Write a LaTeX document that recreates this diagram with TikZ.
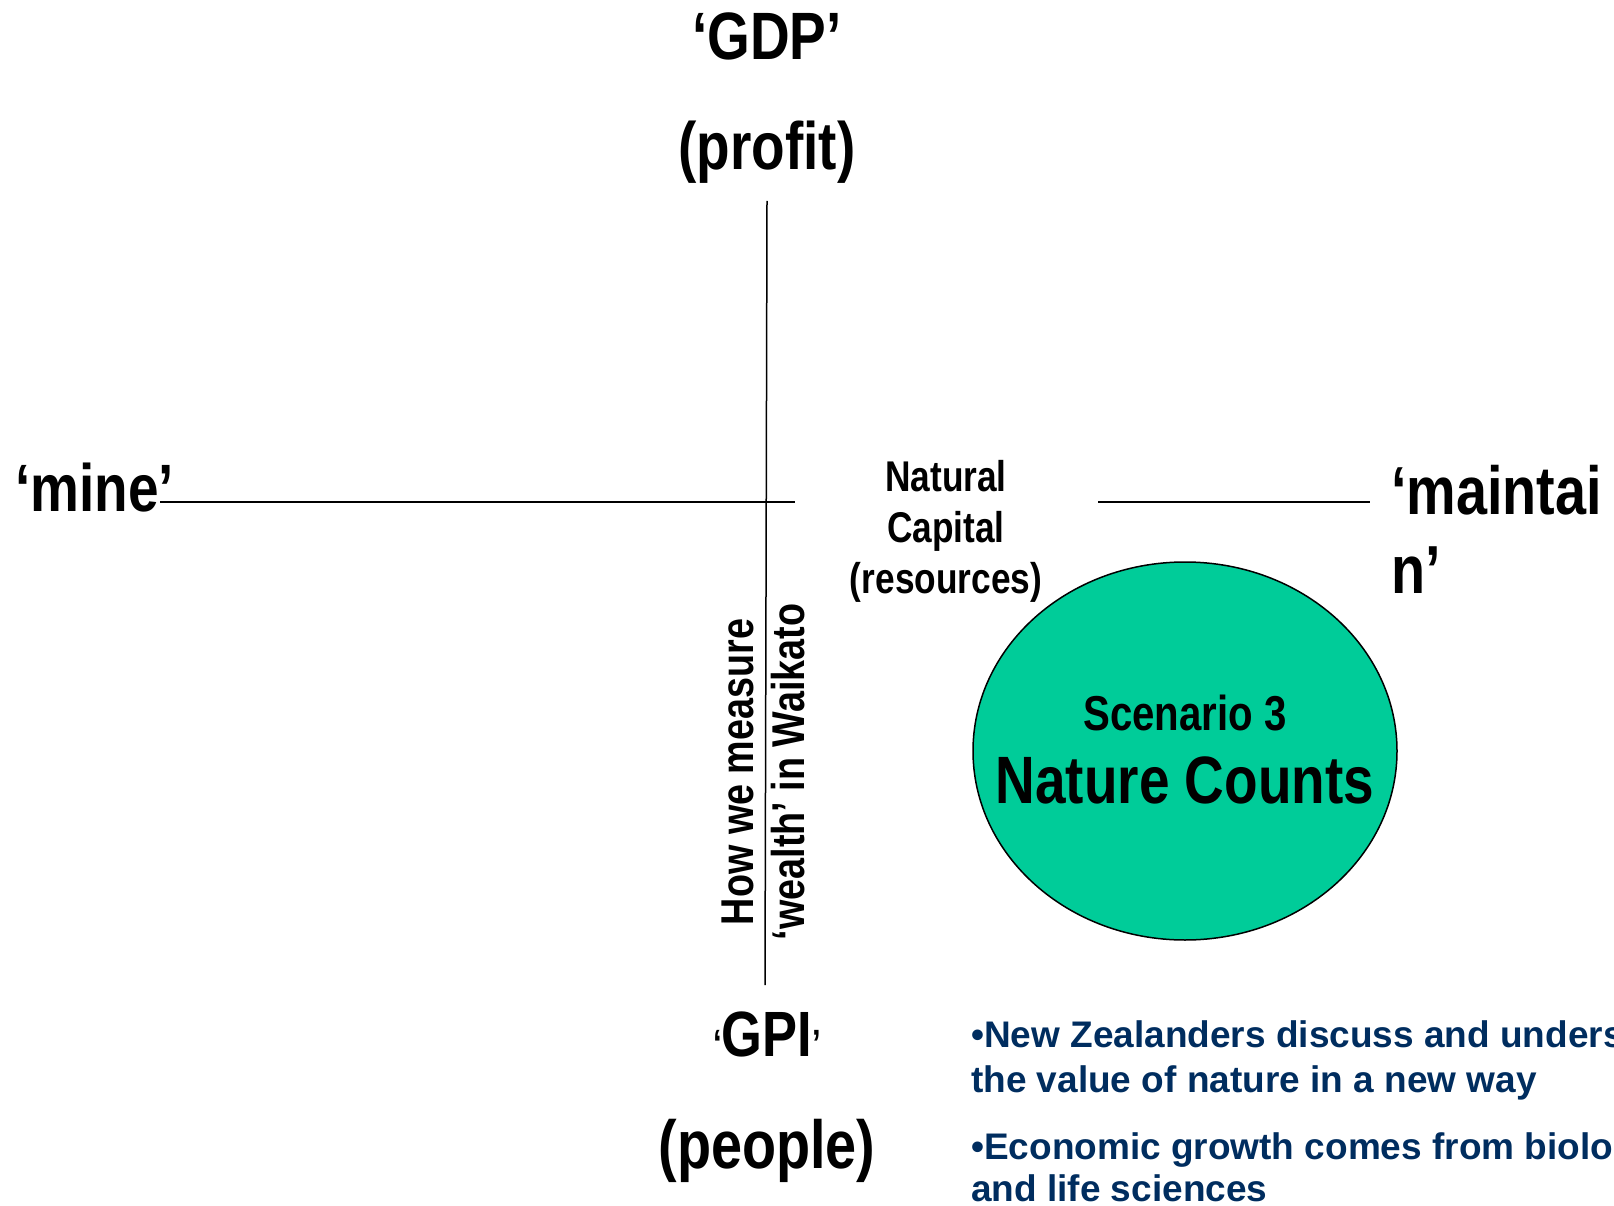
\documentclass[tikz,border=0pt]{standalone}
\usepackage{fontspec}
\setmainfont{Liberation Sans}
\newfontfamily\narrowfont[FakeStretch=0.82]{Liberation Sans}
\definecolor{natgreen}{RGB}{0,204,153}
\definecolor{bulletblue}{RGB}{0,45,95}

\begin{document}
\begin{tikzpicture}[x=1pt,y=-1pt,
    bigword/.style={font=\narrowfont\bfseries\fontsize{67}{80}\selectfont, inner sep=0pt, anchor=base},
    midword/.style={font=\narrowfont\bfseries\fontsize{43}{51}\selectfont, inner sep=0pt, align=center},
    bullettext/.style={font=\bfseries\fontsize{37}{45}\selectfont, text=bulletblue, inner sep=0pt, anchor=base west}]
	% Fix the page and cut off what runs over the edge
	\useasboundingbox (0,0) rectangle (1614,1206);
	\clip (0,0) rectangle (1614,1206);
	
	% Axis end points
	\coordinate (top) at (767,201);
	\coordinate (bottom) at (765,985);
	\coordinate (left) at (160,502);
	\coordinate (mid) at (795,502);
	\coordinate (rmid) at (1098,502);
	\coordinate (right) at (1370,502);
	
	% Draw the axes
	\draw[line width=1.5pt] (top) -- (bottom);
	\draw[line width=1.5pt] (left) -- (mid);
	\draw[line width=1.5pt] (rmid) -- (right);
	
	% Axis labels
	\node[bigword] (gdp) at (767,60) {‘GDP’};
	\node[bigword] (profit) at (767,170) {(profit)};
	\node[bigword, anchor=base west] (mine) at (15,511) {‘mine’};
	\node[bigword, anchor=base west, font=\narrowfont\bfseries\fontsize{68}{80}\selectfont] (maintai) at (1391,514) {‘maintai};
	\node[bigword, anchor=base west, font=\narrowfont\bfseries\fontsize{68}{80}\selectfont] (maintn) at (1391,593) {n’};
	\node[bigword, font=\narrowfont\bfseries\fontsize{64}{70}\selectfont] (gpi) at (767,1056)
		{{\fontsize{38}{40}\selectfont‘}GPI{\fontsize{38}{40}\selectfont’}};
	\node[bigword, font=\narrowfont\bfseries\fontsize{68}{80}\selectfont] (people) at (767,1168) {(people)};
	
	% Natural capital and the measure text
	\node[midword, anchor=north] (natcap) at (946,460) {Natural\\Capital\\(resources)};
	\node[midword, font=\narrowfont\bfseries\fontsize{46}{51}\selectfont, rotate=90] (measure) at (763,772)
		{How we measure\\‘wealth’ in Waikato};
	
	% The scenario circle
	\draw[fill=natgreen, line width=1.5pt] (1185,751) ellipse (212 and 189);
	\node[font=\narrowfont\bfseries\fontsize{49}{55}\selectfont, anchor=base, inner sep=0pt] (scen) at (1185,730) {Scenario 3};
	\node[font=\narrowfont\bfseries\fontsize{67}{75}\selectfont, anchor=base, inner sep=0pt] (counts) at (1185,803) {Nature Counts};
	
	% Bullet points
	\node[bullettext] (b1) at (971,1047) {•New Zealanders discuss and unders};
	\node[bullettext] (b1b) at (971,1092) {the value of nature in a new way};
	\node[bullettext] (b2) at (971,1159) {•Economic growth comes from biolo};
	\node[bullettext] (b2b) at (971,1201) {and life sciences};
\end{tikzpicture}
\end{document}
